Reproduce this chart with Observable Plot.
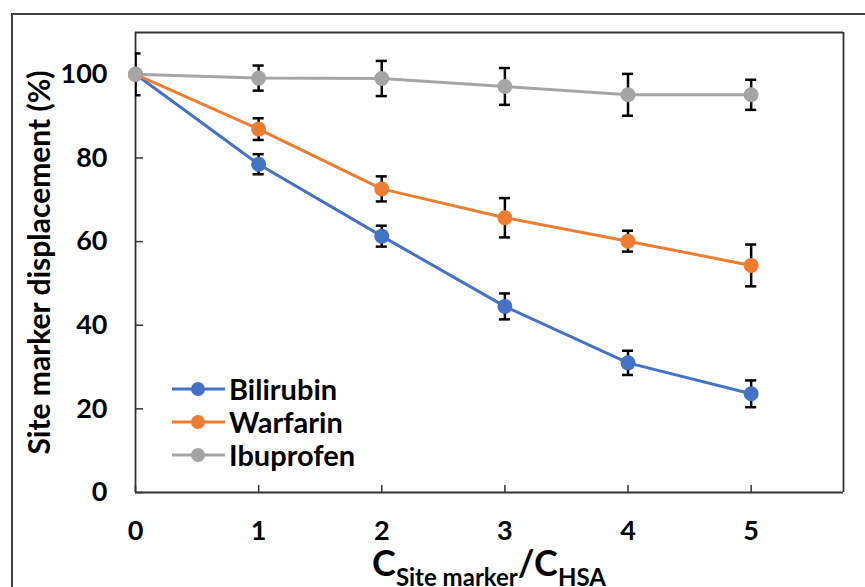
<!DOCTYPE html>
<html>
<head>
<meta charset="utf-8">
<script src="https://cdn.jsdelivr.net/npm/d3@7"></script>
<script src="https://cdn.jsdelivr.net/npm/@observablehq/plot@0.6"></script>
<style>
  html, body { margin: 0; padding: 0; background: #fff; }
  #wrap { position: relative; width: 865px; height: 587px; overflow: hidden; font-family: Lato, "Open Sans", sans-serif; font-weight: 700; }
  #outer { position: absolute; left: 11px; top: 13px; width: 900px; height: 700px; border: 2px solid #404040; box-sizing: border-box; pointer-events: none; }
  #chart { position: absolute; left: 0; top: 0; }
  #xlabel { position: absolute; left: 135px; width: 708px; top: 542px; text-align: center; font-size: 36px; line-height: 40px; color: #000; white-space: nowrap; }
  #xlabel sub { font-size: 24px; vertical-align: -10px; line-height: 0; }
  #legend { position: absolute; left: 170px; top: 372px; }
  .row { display: flex; align-items: center; height: 33px; font-size: 29px; color: #000; }
  .row svg { margin-right: 3px; }
</style>
</head>
<body>
<div id="wrap">
  <div id="chart"></div>
  <div id="outer"></div>
  <div id="xlabel">C<sub>Site marker</sub>/C<sub>HSA</sub></div>
  <div id="legend"></div>
</div>
<script>
const ratios = [0, 1, 2, 3, 4, 5];
const seriesNames = ["Bilirubin", "Warfarin", "Ibuprofen"];
const seriesColors = ["#4472C4", "#ED7D31", "#A5A5A5"];
const bilirubin = [100, 78.5, 61.3, 44.5, 31.0, 23.6];
const bilirubinErr = [0, 2.4, 2.5, 3.1, 2.9, 3.2];
const warfarin = [100, 86.9, 72.6, 65.7, 60.1, 54.3];
const warfarinErr = [0, 2.6, 3.0, 4.7, 2.5, 5.0];
const ibuprofen = [100, 99.1, 99.0, 97.1, 95.1, 95.1];
const ibuprofenErr = [5, 3.0, 4.2, 4.4, 5.0, 3.6];
const xTicks = [0, 1, 2, 3, 4, 5];
const yTicks = [0, 20, 40, 60, 80, 100];
const xDomain = [0, 5.75];
const yDomain = [0, 110];
const yLabel = "Site marker displacement (%)";

const valueSets = [bilirubin, warfarin, ibuprofen];
const errSets = [bilirubinErr, warfarinErr, ibuprofenErr];
const rows = [];
seriesNames.forEach((s, i) => {
  ratios.forEach((r, j) => {
    rows.push({series: s, x: r, y: valueSets[i][j], err: errSets[i][j]});
  });
});
const errRows = rows.filter(d => d.err > 0);
const capHalf = 0.045;

const plot = Plot.plot({
  width: 865,
  height: 587,
  marginLeft: 135,
  marginRight: 22,
  marginTop: 32,
  marginBottom: 95,
  style: {fontFamily: "Lato, 'Open Sans', sans-serif", fontWeight: 700, color: "#000", background: "transparent"},
  x: {domain: xDomain},
  y: {domain: yDomain},
  color: {domain: seriesNames, range: seriesColors},
  marks: [
    Plot.axisY({ticks: yTicks, tickSize: -8, tickPadding: 36, fontSize: 27, stroke: "#333", strokeWidth: 1.5, label: null}),
    Plot.axisX({ticks: xTicks, tickSize: -7, tickPadding: 35, fontSize: 27, tickFormat: "d", stroke: "#333", strokeWidth: 1.5, label: null}),
    Plot.text([yLabel], {text: d => d, frameAnchor: "left", textAnchor: "middle", rotate: -90, dx: -95, fontSize: 30, fontWeight: 700, fill: "#000"}),
    Plot.ruleX(xDomain, {x: d => d, stroke: "#333", strokeWidth: 1.8}),
    Plot.ruleY(yDomain, {y: d => d, stroke: "#333", strokeWidth: 1.8}),
    Plot.ruleX(errRows, {x: "x", y1: d => d.y - d.err, y2: d => d.y + d.err, stroke: "#000", strokeWidth: 2.5, clip: true}),
    Plot.ruleY(errRows, {y: d => d.y - d.err, x1: d => d.x - capHalf, x2: d => d.x + capHalf, stroke: "#000", strokeWidth: 2.5, clip: true}),
    Plot.ruleY(errRows, {y: d => d.y + d.err, x1: d => d.x - capHalf, x2: d => d.x + capHalf, stroke: "#000", strokeWidth: 2.5, clip: true}),
    Plot.line(rows, {x: "x", y: "y", z: "series", stroke: "series", strokeWidth: 3}),
    Plot.dot(rows, {x: "x", y: "y", fill: "series", r: 7.5})
  ]
});
document.getElementById("chart").appendChild(plot);

const legend = document.getElementById("legend");
seriesNames.forEach((s, i) => {
  const row = document.createElement("div");
  row.className = "row";
  row.innerHTML = `<svg width="56" height="20"><line x1="2" y1="10" x2="55" y2="10" stroke="${seriesColors[i]}" stroke-width="3"/><circle cx="28" cy="10" r="7" fill="${seriesColors[i]}"/></svg><span>${s}</span>`;
  legend.appendChild(row);
});
</script>
</body>
</html>
